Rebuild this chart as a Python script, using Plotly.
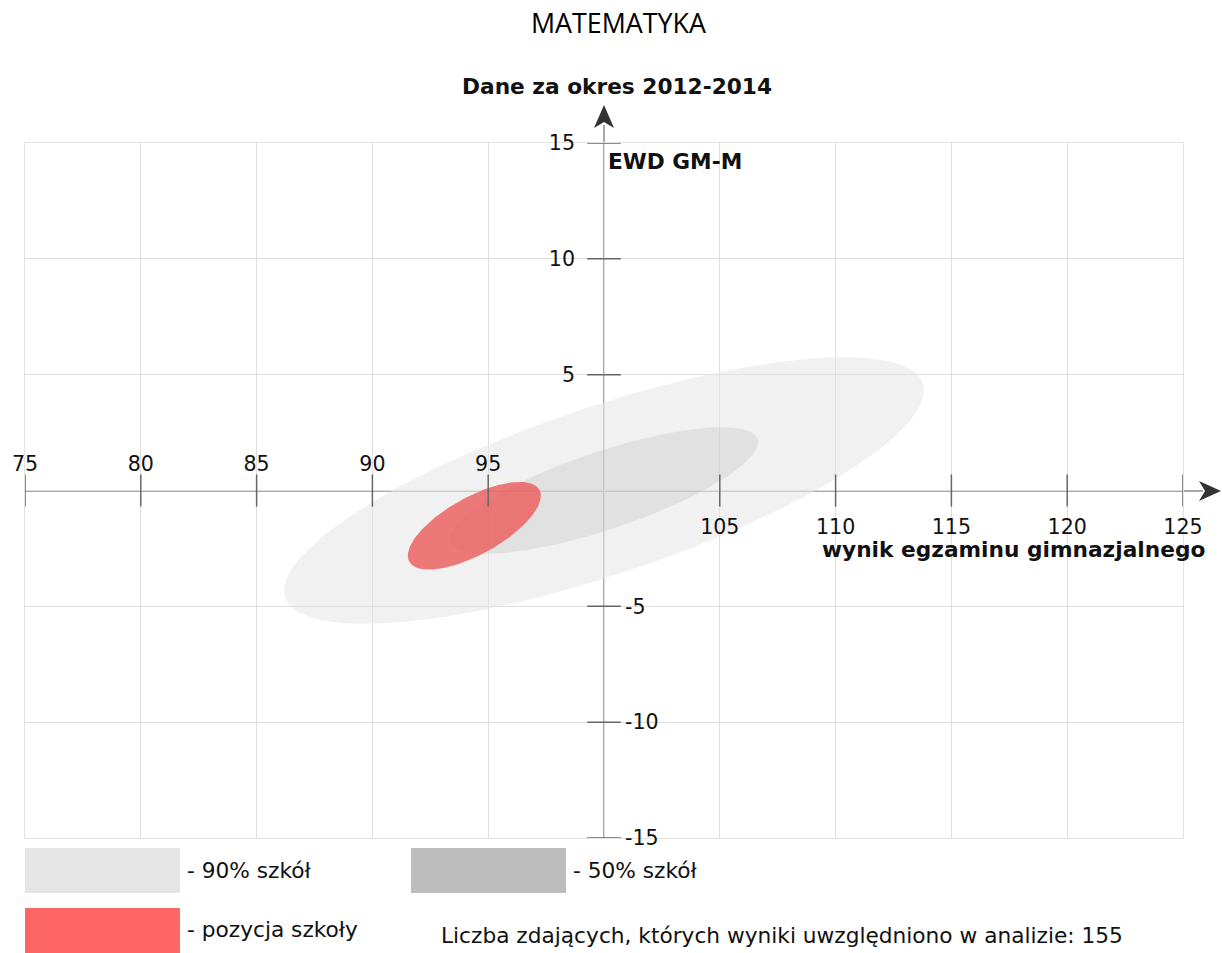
import numpy as np
import plotly.graph_objects as go

# ---------------- data ----------------
title_text = "MATEMATYKA"
period_text = "Dane za okres 2012-2014"
y_axis_title = "EWD GM-M"
x_axis_title = "wynik egzaminu gimnazjalnego"

ellipse_names = ["90% szkół", "50% szkół", "pozycja szkoły"]
center_x = [100.0, 100.0, 94.4]
center_y = [0.0, 0.0, -1.52]
semi_major = [14.52, 6.99, 3.21]
semi_minor = [3.62, 1.68, 1.24]
angle_deg = [18.55, 18.5, 28.9]

x_ticks_above = [75, 80, 85, 90, 95]
x_ticks_below = [105, 110, 115, 120, 125]
y_ticks_left = [5, 10, 15]
y_ticks_right = [-15, -10, -5]

legend_labels = ["- 90% szkół", "- 50% szkół", "- pozycja szkoły"]
n_students = 155

# ---------------- styles ----------------
W, H = 1222, 953
ML, MR, MT, MB = 25, 39, 143, 115
PW, PH = W - ML - MR, H - MT - MB

fills = ["rgba(229,229,229,0.55)", "rgba(189,189,189,0.30)", "rgba(235,90,90,0.80)"]
legend_colors = ["#e5e5e5", "#bdbdbd", "#ff6666"]
FONT = "DejaVu Sans"
AX_GRAY = "#a8a8a8"
TICK_GRAY = "#666666"
BOLD_SIZE = 21.7
TICK_SIZE = 20.6
LEG_SIZE = 21.7


def px(x):
    return (x - ML) / PW


def py(y):
    return (H - MB - y) / PH


fig = go.Figure()

t = np.linspace(0, 2 * np.pi, 241)
for name, cx, cy, a, b, ang, fc in zip(ellipse_names, center_x, center_y,
                                        semi_major, semi_minor, angle_deg, fills):
    th = np.radians(ang)
    ex = cx + a * np.cos(th) * np.cos(t) - b * np.sin(th) * np.sin(t)
    ey = cy + a * np.sin(th) * np.cos(t) + b * np.cos(th) * np.sin(t)
    fig.add_trace(go.Scatter(x=ex, y=ey, mode="lines", fill="toself",
                             fillcolor=fc, line=dict(width=0), name=name,
                             hoverinfo="skip", showlegend=False))

# tick marks crossing the central axes
xt = x_ticks_above + x_ticks_below
fig.add_trace(go.Scatter(x=xt, y=[0] * len(xt), mode="markers",
                         marker=dict(symbol="line-ns", size=23,
                                     line=dict(width=1.5, color=TICK_GRAY)),
                         hoverinfo="skip", showlegend=False, cliponaxis=False))
yt = y_ticks_right + y_ticks_left
fig.add_trace(go.Scatter(x=[100] * len(yt), y=yt, mode="markers",
                         marker=dict(symbol="line-ew", size=24,
                                     line=dict(width=1.5, color=TICK_GRAY)),
                         hoverinfo="skip", showlegend=False, cliponaxis=False))

# empty traces so that label axes are rendered
fig.add_trace(go.Scatter(x=[], y=[], xaxis="x2", yaxis="y", showlegend=False))
fig.add_trace(go.Scatter(x=[], y=[], xaxis="x3", yaxis="y", showlegend=False))
fig.add_trace(go.Scatter(x=[], y=[], xaxis="x", yaxis="y2", showlegend=False))
fig.add_trace(go.Scatter(x=[], y=[], xaxis="x", yaxis="y3", showlegend=False))

tickfont = dict(family=FONT, size=TICK_SIZE, color="#111111")
label_axis = dict(range=[75, 125], showgrid=False, zeroline=False,
                  showline=False, ticks="", tickfont=tickfont, fixedrange=True)
ylabel_axis = dict(range=[-15, 15], showgrid=False, zeroline=False,
                   showline=False, ticks="", tickfont=tickfont, fixedrange=True)

fig.update_layout(
    width=W, height=H, autosize=False,
    margin=dict(l=ML, r=MR, t=MT, b=MB),
    paper_bgcolor="white", plot_bgcolor="white",
    showlegend=False,
    xaxis=dict(range=[75, 125], dtick=5, tick0=75, showgrid=True,
               gridcolor="#dedede", gridwidth=1, zeroline=False,
               showticklabels=False, ticks="", showline=True, mirror=True,
               linecolor="#e2e2e2", linewidth=1, fixedrange=True),
    yaxis=dict(range=[-15, 15], dtick=5, tick0=-15, showgrid=True,
               gridcolor="#dedede", gridwidth=1, zeroline=False,
               showticklabels=False, ticks="", showline=True, mirror=True,
               linecolor="#e2e2e2", linewidth=1, fixedrange=True),
    xaxis2=dict(label_axis, overlaying="x", anchor="free", position=0.5,
                side="top", tickvals=x_ticks_above,
                ticktext=[str(v) for v in x_ticks_above], ticklabelstandoff=15),
    xaxis3=dict(label_axis, overlaying="x", anchor="free", position=0.5,
                side="bottom", tickvals=x_ticks_below,
                ticktext=[str(v) for v in x_ticks_below], ticklabelstandoff=22),
    yaxis2=dict(ylabel_axis, overlaying="y", anchor="free", position=0.5,
                side="left", tickvals=y_ticks_left,
                ticktext=[str(v) for v in y_ticks_left], ticklabelstandoff=29),
    yaxis3=dict(ylabel_axis, overlaying="y", anchor="free", position=0.5,
                side="right", tickvals=y_ticks_right,
                ticktext=[str(v) for v in y_ticks_right], ticklabelstandoff=20),
)

shapes = []
# central horizontal axis with arrow
shapes.append(dict(type="line", xref="paper", yref="paper", layer="below",
                   x0=px(25), x1=px(1203), y0=py(491), y1=py(491),
                   line=dict(color=AX_GRAY, width=2)))
shapes.append(dict(type="path", xref="paper", yref="paper", layer="above",
                   path=f"M {px(1221)} {py(491)} L {px(1199)} {py(481)} "
                        f"L {px(1205)} {py(491)} L {px(1199)} {py(501)} Z",
                   fillcolor="#333333", line=dict(width=0)))
# central vertical axis with arrow
shapes.append(dict(type="line", xref="paper", yref="paper", layer="below",
                   x0=px(604), x1=px(604), y0=py(838), y1=py(125),
                   line=dict(color=AX_GRAY, width=2)))
shapes.append(dict(type="path", xref="paper", yref="paper", layer="above",
                   path=f"M {px(604)} {py(105)} L {px(594)} {py(128)} "
                        f"L {px(604)} {py(122)} L {px(614)} {py(128)} Z",
                   fillcolor="#333333", line=dict(width=0)))
# legend boxes
box_pos = [(25, 848), (411, 848), (25, 908)]
for (bx, by), col in zip(box_pos, legend_colors):
    shapes.append(dict(type="rect", xref="paper", yref="paper",
                       x0=px(bx), x1=px(bx + 155), y0=py(by), y1=py(by + 45),
                       fillcolor=col, line=dict(width=0)))
fig.update_layout(shapes=shapes)

ann = []
ann.append(dict(text=title_text, xref="paper", yref="paper", x=px(618), y=py(22),
                xanchor="center", yanchor="middle", showarrow=False,
                font=dict(family="Open Sans", size=26.8, color="#000000")))
ann.append(dict(text=f"<b>{period_text}</b>", xref="paper", yref="paper",
                x=px(617), y=py(86), xanchor="center", yanchor="middle",
                showarrow=False, font=dict(family=FONT, size=BOLD_SIZE, color="#111111")))
ann.append(dict(text=f"<b>{y_axis_title}</b>", xref="paper", yref="paper",
                x=px(606), y=py(161), xanchor="left", yanchor="middle",
                showarrow=False, font=dict(family=FONT, size=BOLD_SIZE, color="#111111")))
ann.append(dict(text=f"<b>{x_axis_title}</b>", xref="paper", yref="paper",
                x=px(1207), y=py(549), xanchor="right", yanchor="middle",
                showarrow=False, font=dict(family=FONT, size=BOLD_SIZE, color="#111111")))
leg_text_pos = [(185, 870), (571, 870), (185, 930)]
for (tx, ty), lab in zip(leg_text_pos, legend_labels):
    ann.append(dict(text=lab, xref="paper", yref="paper", x=px(tx), y=py(ty),
                    xanchor="left", yanchor="middle", showarrow=False,
                    font=dict(family=FONT, size=LEG_SIZE, color="#111111")))
ann.append(dict(text=f"Liczba zdających, których wyniki uwzględniono w analizie: {n_students}",
                xref="paper", yref="paper", x=px(439), y=py(935),
                xanchor="left", yanchor="middle", showarrow=False,
                font=dict(family=FONT, size=LEG_SIZE, color="#111111")))
fig.update_layout(annotations=ann)

fig.write_html("out.html",
               config={"displayModeBar": False},
               post_script="document.body.style.margin='0px';"
                           "document.body.style.overflow='hidden';")
